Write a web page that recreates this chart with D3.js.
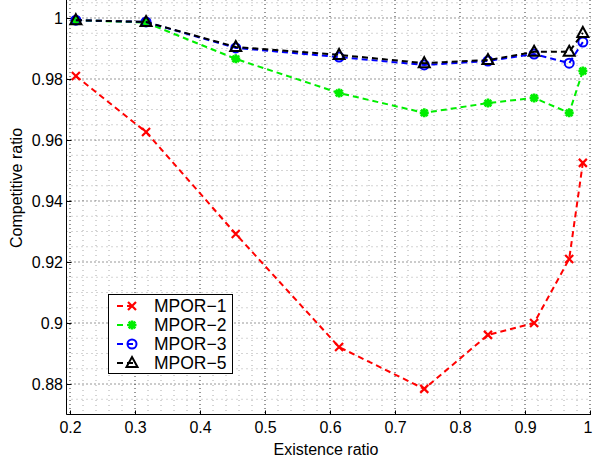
<!DOCTYPE html>
<html><head><meta charset="utf-8">
<script src="https://cdn.jsdelivr.net/npm/d3@7"></script>
<style>body{margin:0;background:#fff}svg{display:block;font-family:"Liberation Sans",Arial,sans-serif}</style>
</head><body><svg id="c" width="593" height="461"></svg>
<script>
const xVals = [0.209, 0.317, 0.455, 0.614, 0.745, 0.843, 0.914, 0.968, 0.989];
const mpor1 = [0.9810, 0.9626, 0.9292, 0.8921, 0.8784, 0.8961, 0.9000, 0.9210, 0.9525];
const mpor2 = [0.9993, 0.9985, 0.9866, 0.9754, 0.9689, 0.9721, 0.9738, 0.9689, 0.9826];
const mpor3 = [0.9993, 0.9987, 0.9902, 0.9872, 0.9846, 0.9859, 0.9882, 0.9852, 0.9921];
const mpor5 = [0.9993, 0.9987, 0.9905, 0.9879, 0.9852, 0.9862, 0.9889, 0.9889, 0.9951];
const seriesNames = ["MPOR\u22121", "MPOR\u22122", "MPOR\u22123", "MPOR\u22125"];
const xTicks = [0.2, 0.3, 0.4, 0.5, 0.6, 0.7, 0.8, 0.9, 1];
const xTickLabels = ["0.2", "0.3", "0.4", "0.5", "0.6", "0.7", "0.8", "0.9", "1"];
const yTicks = [0.88, 0.9, 0.92, 0.94, 0.96, 0.98, 1];
const yTickLabels = ["0.88", "0.9", "0.92", "0.94", "0.96", "0.98", "1"];

const svg = d3.select("#c");
const L = 66.5, B = 414.5, T = 0, R = 591;
const x = d3.scaleLinear().domain([0.2, 1]).range([70, 590]);
const y = d3.scaleLinear().domain([0.88, 1]).range([384, 18]);
const FS = 16;

// grid
const g = svg.append("g");
const xMinor = d3.range(0.2, 1.0001, 0.02).map(v => +v.toFixed(3));
const yMinor = d3.range(0.87, 1.006, 0.005).map(v => +v.toFixed(4));
xMinor.forEach(v => {
  const major = xTicks.some(t => Math.abs(t - v) < 1e-6);
  g.append("line").attr("x1", x(v)).attr("x2", x(v)).attr("y1", T).attr("y2", B)
    .attr("stroke", major ? "#333" : "#aaa").attr("stroke-width", 1)
    .attr("stroke-dasharray", major ? "1,3" : "1,4");
});
yMinor.forEach(v => {
  const major = yTicks.some(t => Math.abs(t - v) < 1e-6);
  g.append("line").attr("x1", L).attr("x2", R).attr("y1", y(v)).attr("y2", y(v))
    .attr("stroke", major ? "#333" : "#aaa").attr("stroke-width", 1)
    .attr("stroke-dasharray", major ? "1,3" : "1,4");
});

// axes
const ax = svg.append("g").attr("transform", `translate(0,${B})`)
  .call(d3.axisBottom(x).tickValues(xTicks).tickFormat((d, i) => xTickLabels[i]).tickSize(-4).tickPadding(7));
const ay = svg.append("g").attr("transform", `translate(${L},0)`)
  .call(d3.axisLeft(y).tickValues(yTicks).tickFormat((d, i) => yTickLabels[i]).tickSize(-5).tickPadding(3.5));
[ax, ay].forEach(a => {
  a.selectAll("path.domain").remove();
  a.selectAll("text").attr("font-size", FS).attr("fill", "#000").attr("font-family", "Liberation Sans, Arial, sans-serif");
  a.selectAll("line").attr("stroke", "#000");
});
ax.selectAll("text").filter(d => d === 1).attr("text-anchor", "end").attr("dx", 2);
svg.append("line").attr("x1", L).attr("x2", L).attr("y1", T).attr("y2", B).attr("stroke", "#000");
svg.append("line").attr("x1", L).attr("x2", R).attr("y1", B).attr("y2", B).attr("stroke", "#000");

svg.append("text").attr("x", 326).attr("y", 455).attr("text-anchor", "middle").attr("font-size", FS).text("Existence ratio");
svg.append("text").attr("transform", "translate(22,188) rotate(-90)").attr("text-anchor", "middle").attr("font-size", FS).text("Competitive ratio");

// markers
function marker(sel, type, color) {
  if (type === "x") {
    sel.append("path").attr("d", "M-4,-4L4,4M-4,4L4,-4").attr("stroke", color).attr("stroke-width", 2.2).attr("fill", "none");
  } else if (type === "star") {
    sel.append("path").attr("d", "M-4.5,0L4.5,0M0,-4.5L0,4.5M-3.3,-3.3L3.3,3.3M-3.3,3.3L3.3,-3.3").attr("stroke", color).attr("stroke-width", 2.6).attr("fill", "none");
  } else if (type === "circle") {
    sel.append("circle").attr("r", 4.5).attr("stroke", color).attr("stroke-width", 2).attr("fill", "none");
  } else {
    sel.append("path").attr("d", "M0,-6L5.5,4L-5.5,4Z").attr("stroke", color).attr("stroke-width", 2).attr("fill", "none").attr("stroke-linejoin", "miter");
  }
}
const series = [
  {vals: mpor1, color: "#ff0000", m: "x"},
  {vals: mpor2, color: "#00ee00", m: "star"},
  {vals: mpor3, color: "#0000ff", m: "circle"},
  {vals: mpor5, color: "#000000", m: "tri"}
];
const line = d3.line().x((d, i) => x(xVals[i])).y(d => y(d));
series.forEach(s => {
  svg.append("path").datum(s.vals).attr("d", line).attr("fill", "none")
    .attr("stroke", s.color).attr("stroke-width", 2).attr("stroke-dasharray", "6,4");
  s.vals.forEach((v, i) => {
    const gg = svg.append("g").attr("transform", `translate(${x(xVals[i])},${y(v)})`);
    marker(gg, s.m, s.color);
  });
});

// legend
const lg = svg.append("g");
lg.append("rect").attr("x", 108.5).attr("y", 294.5).attr("width", 124).attr("height", 79)
  .attr("fill", "#fff").attr("stroke", "#000").attr("stroke-width", 1);
series.forEach((s, i) => {
  const yy = 306 + i * 19;
  lg.append("line").attr("x1", 117).attr("x2", 137).attr("y1", yy).attr("y2", yy)
    .attr("stroke", s.color).attr("stroke-width", 2).attr("stroke-dasharray", "6,4");
  const gg = lg.append("g").attr("transform", `translate(132,${yy})`);
  marker(gg, s.m, s.color);
  lg.append("text").attr("x", 154).attr("y", yy + 6).attr("font-size", 17.5).text(seriesNames[i]);
});
</script></body></html>
